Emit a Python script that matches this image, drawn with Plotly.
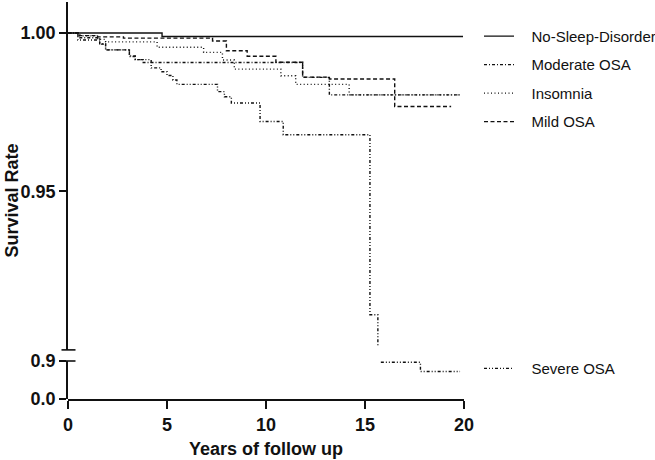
import plotly.graph_objects as go

# ---------------- data ----------------
x_ticks = [0, 5, 10, 15, 20]
upper_ticks = [0.95, 1.00]
lower_ticks = [0.0, 0.9]

years_none = [0, 4.75, 19.95]
surv_none = [1.0, 0.9989, 0.9989]

years_moderate = [0, 0.6, 1.6, 1.9, 3.1, 3.4, 3.8, 11.85, 13.2, 19.8]
surv_moderate = [1.0, 0.9985, 0.9966, 0.9947, 0.9926, 0.9916, 0.9907, 0.9860, 0.9805, 0.9805]

years_insomnia = [0, 0.5, 1.5, 1.9, 4.5, 6.85, 7.8, 8.4, 10.75, 11.5, 14.2, 19.8]
surv_insomnia = [1.0, 0.9991, 0.9980, 0.9972, 0.9955, 0.9939, 0.9915, 0.9886, 0.9865, 0.9838, 0.9805, 0.9805]

years_mild = [0, 0.5, 1.5, 2.8, 7.3, 8.0, 9.05, 10.5, 11.85, 13.2, 16.5, 19.35]
surv_mild = [1.0, 0.9992, 0.9988, 0.9984, 0.9975, 0.9944, 0.9927, 0.9908, 0.9861, 0.9855, 0.9768, 0.9768]

years_severe = [0, 0.5, 1.6, 1.9, 3.1, 3.4, 4.2, 4.7, 5.0, 5.3, 5.5, 7.55, 7.9, 8.25,
                9.7, 10.87, 15.25, 15.65, None, 15.8, 17.8, 19.8]
surv_severe = [1.0, 0.9978, 0.9965, 0.9947, 0.9928, 0.9916, 0.9890, 0.9878, 0.9866, 0.9852,
               0.9838, 0.9815, 0.9799, 0.9779, 0.9721, 0.9679, 0.9111, 0.9011, None,
               0.8961, 0.8932, 0.8932]

# ---------------- figure ----------------
INK = "#111111"
FONT = "Liberation Sans, Arial, Helvetica, sans-serif"
PAD = "\u00a0\u00a0\u00a0"  # widen the gap between legend sample and label

fig = go.Figure()


def add_curve(name, x, y, dash, legend="legend"):
    fig.add_trace(go.Scatter(
        x=x, y=y, mode="lines", name=PAD + name, legend=legend, legendgroup=name,
        connectgaps=False, hoverinfo="skip",
        line=dict(color=INK, width=1.4, dash=dash, shape="hv"),
    ))


add_curve("No-Sleep-Disorder", years_none, surv_none, "solid")
add_curve("Moderate OSA", years_moderate, surv_moderate, "3px,2px,1px,2px")
add_curve("Insomnia", years_insomnia, surv_insomnia, "1px,2.5px")
add_curve("Mild OSA", years_mild, surv_mild, "4px,2.5px")
add_curve("Severe OSA", years_severe, surv_severe, "3px,2px,1px,2px,1px,2px", legend="legend2")

# empty placeholders so the two segments of the broken y axis get drawn
for ax in ("y2", "y3"):
    fig.add_trace(go.Scatter(x=[None], y=[None], yaxis=ax, mode="lines",
                             showlegend=False, hoverinfo="skip"))

Y_MIN, Y_MAX = 0.8845, 1.0098
PLOT_W, PLOT_H = 396, 397
split = (0.9 - Y_MIN) / (Y_MAX - Y_MIN)
low_top = 38 / PLOT_H

axis_common = dict(
    showline=True, linecolor=INK, linewidth=1.8, showgrid=False, zeroline=False,
    ticks="outside", ticklen=7, tickwidth=1.6, tickcolor=INK,
    tickfont=dict(family=FONT, size=18, color=INK, weight="bold"),
    fixedrange=True,
)

fig.update_layout(
    width=655, height=460,
    margin=dict(l=68, r=191, t=2, b=61, autoexpand=False),
    plot_bgcolor="rgba(0,0,0,0)", paper_bgcolor="white",
    font=dict(family=FONT, color=INK),
    showlegend=True,
    xaxis=dict(range=[0, 20], tickvals=x_ticks, anchor="y", **{**axis_common, "ticklen": 8}),
    yaxis=dict(range=[Y_MIN, Y_MAX], domain=[0, 1], visible=False, fixedrange=True),
    yaxis2=dict(domain=[0, low_top], range=[0, 0.9], anchor="x", tickvals=lower_ticks,
                tickformat=".1f", **axis_common),
    yaxis3=dict(domain=[split, 1], range=[0.9, Y_MAX], anchor="x", tickvals=upper_ticks,
                tickformat=".2f", **axis_common),
    legend=dict(x=(479 - 68) / PLOT_W, xanchor="left", y=0.955, yanchor="top",
                font=dict(family=FONT, size=15, color=INK), tracegroupgap=6,
                bgcolor="rgba(0,0,0,0)", itemwidth=30),
    legend2=dict(x=(479 - 68) / PLOT_W, xanchor="left", y=0.118, yanchor="top",
                 font=dict(family=FONT, size=15, color=INK),
                 bgcolor="rgba(0,0,0,0)", itemwidth=30),
    annotations=[
        dict(text="Years of follow up", xref="paper", yref="paper", x=0.5, y=-50 / PLOT_H,
             xanchor="center", yanchor="middle", showarrow=False,
             font=dict(family=FONT, size=18, color=INK, weight="bold")),
        dict(text="Survival Rate", xref="paper", yref="paper", x=-57 / PLOT_W, y=0.5,
             xanchor="center", yanchor="middle", showarrow=False, textangle=-90,
             font=dict(family=FONT, size=18, color=INK, weight="bold")),
    ],
    shapes=[
        dict(type="line", xref="paper", yref="paper", x0=-6.5 / PLOT_W, x1=7.5 / PLOT_W,
             y0=split, y1=split, line=dict(color=INK, width=1.6)),
        dict(type="line", xref="paper", yref="paper", x0=-6.5 / PLOT_W, x1=7.5 / PLOT_W,
             y0=low_top, y1=low_top, line=dict(color=INK, width=1.6)),
    ],
)

fig.write_html("out.html", config={"displayModeBar": False},
               post_script="document.body.style.margin='0';")
